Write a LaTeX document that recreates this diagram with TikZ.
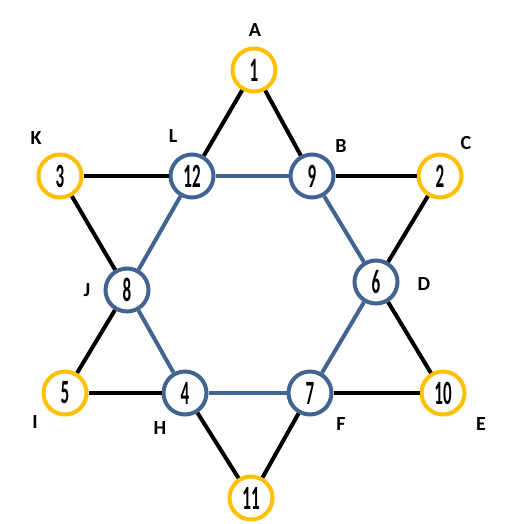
\documentclass[tikz,border=0pt]{standalone}
\usepackage{fontspec}
\setmainfont{Carlito}
\definecolor{ybord}{RGB}{255,192,0}
\definecolor{bbord}{RGB}{65,100,145}
\tikzset{
  num/.style={circle, draw, line width=4pt, fill=white, minimum size=43pt, inner sep=0pt, font=\fontsize{34}{34}\selectfont\bfseries},
  ynode/.style={num, draw=ybord},
  bnode/.style={num, draw=bbord},
  lab/.style={font=\fontsize{20}{20}\selectfont\bfseries, inner sep=0pt},
  kedge/.style={line width=4pt, black},
  bedge/.style={line width=4pt, bbord},
}
\newcommand{\nm}[1]{\scalebox{0.5}[1]{#1}}
\begin{document}
\begin{tikzpicture}[x=1pt,y=-1pt]
\useasboundingbox (0,0) rectangle (527,524);
\node[ynode] (n1) at (254,70) {\nm{1}};
\node[ynode] (n3) at (60,176) {\nm{3}};
\node[bnode] (n12) at (192,176) {\nm{12}};
\node[bnode] (n9) at (312,176) {\nm{9}};
\node[ynode] (n2) at (440,176) {\nm{2}};
\node[bnode] (n8) at (127,290) {\nm{8}};
\node[bnode] (n6) at (376,282) {\nm{6}};
\node[ynode] (n5) at (65,393) {\nm{5}};
\node[bnode] (n4) at (185,393) {\nm{4}};
\node[bnode] (n7) at (310,393) {\nm{7}};
\node[ynode] (n10) at (443,393) {\nm{10}};
\node[ynode] (n11) at (251,498) {\nm{11}};
\draw[kedge] (n1) -- (n12);
\draw[kedge] (n1) -- (n9);
\draw[kedge] (n3) -- (n12);
\draw[kedge] (n9) -- (n2);
\draw[kedge] (n3) -- (n8);
\draw[kedge] (n2) -- (n6);
\draw[kedge] (n5) -- (n8);
\draw[kedge] (n5) -- (n4);
\draw[kedge] (n6) -- (n10);
\draw[kedge] (n7) -- (n10);
\draw[kedge] (n4) -- (n11);
\draw[kedge] (n7) -- (n11);
\draw[bedge] (n12) -- (n9);
\draw[bedge] (n12) -- (n8);
\draw[bedge] (n9) -- (n6);
\draw[bedge] (n8) -- (n4);
\draw[bedge] (n6) -- (n7);
\draw[bedge] (n4) -- (n7);
\node[lab] (lA) at (255,30) {A};
\node[lab] (lK) at (36,138) {K};
\node[lab] (lL) at (173,136) {L};
\node[lab] (lB) at (341,146) {B};
\node[lab] (lC) at (466,143) {C};
\node[lab] (lJ) at (87,290) {J};
\node[lab] (lD) at (424,284) {D};
\node[lab] (lI) at (35,422) {I};
\node[lab] (lH) at (160,428) {H};
\node[lab] (lF) at (341,424) {F};
\node[lab] (lE) at (481,424) {E};
\end{tikzpicture}
\end{document}
